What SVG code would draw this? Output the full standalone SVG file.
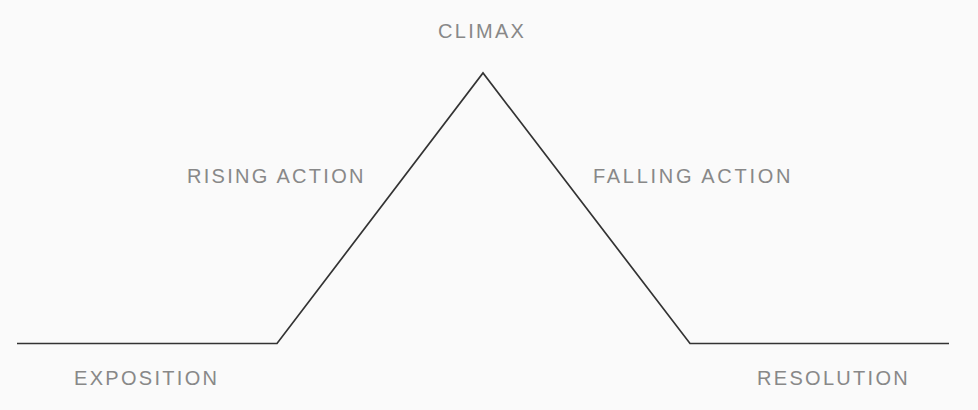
<svg xmlns="http://www.w3.org/2000/svg" width="978" height="410" viewBox="0 0 978 410">
<style>
.lbl{font-family:"Liberation Sans",Arial,sans-serif;font-size:20px;fill:#888;letter-spacing:2.3px}
.ln{fill:none;stroke:#333;stroke-width:1.7;stroke-linejoin:miter}
</style>
<rect width="978" height="410" fill="#fafafa"/>
<g id="connectors">
<polyline class="ln" points="17,343.5 277,343.5 483,73 690,343.5 949,343.5"/>
</g>
<g id="climax"><text class="lbl" x="438" y="38">CLIMAX</text></g>
<g id="rising"><text class="lbl" x="187" y="183">RISING ACTION</text></g>
<g id="falling"><text class="lbl" x="593" y="183" style="letter-spacing:2.7px">FALLING ACTION</text></g>
<g id="exposition"><text class="lbl" x="74" y="385">EXPOSITION</text></g>
<g id="resolution"><text class="lbl" x="757" y="385">RESOLUTION</text></g>
</svg>
